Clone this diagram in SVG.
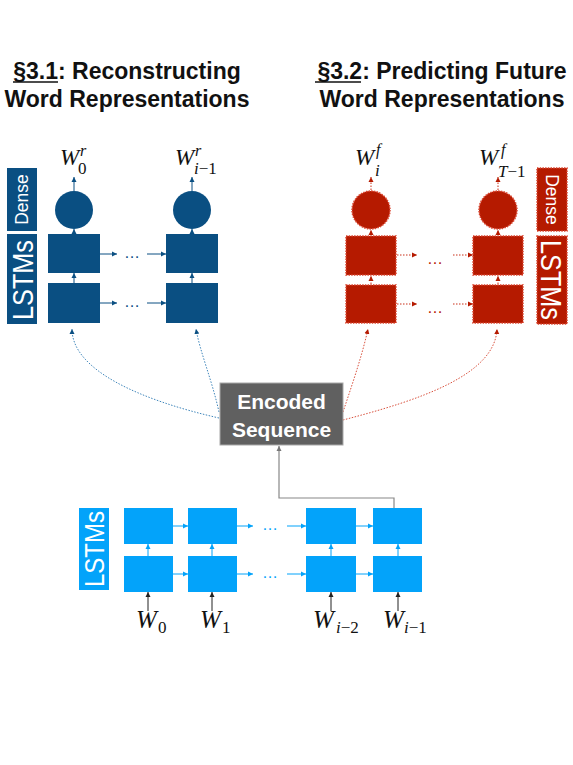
<svg xmlns="http://www.w3.org/2000/svg" width="573" height="765" viewBox="0 0 573 765">
<defs>
<marker id="aB" markerUnits="userSpaceOnUse" markerWidth="6" markerHeight="6" refX="5" refY="3" orient="auto"><path d="M0,0.5 L5,3 L0,5.5 Z" fill="#0a4f82"/></marker>
<marker id="aR" markerUnits="userSpaceOnUse" markerWidth="6" markerHeight="6" refX="5" refY="3" orient="auto"><path d="M0,0.5 L5,3 L0,5.5 Z" fill="#b51a00"/></marker>
<marker id="aL" markerUnits="userSpaceOnUse" markerWidth="6" markerHeight="6" refX="5" refY="3" orient="auto"><path d="M0,0.5 L5,3 L0,5.5 Z" fill="#03a3fa"/></marker>
<marker id="aK" markerUnits="userSpaceOnUse" markerWidth="6" markerHeight="6" refX="5" refY="3" orient="auto"><path d="M0,0.5 L5,3 L0,5.5 Z" fill="#222"/></marker>
<marker id="aG" markerUnits="userSpaceOnUse" markerWidth="6" markerHeight="6" refX="5" refY="3" orient="auto"><path d="M0,0.5 L5,3 L0,5.5 Z" fill="#777"/></marker>
</defs>
<style>
.title{font-family:"Liberation Sans",Arial,sans-serif;font-weight:bold;font-size:23px;fill:#111;text-anchor:middle}
.blue{fill:#0a4f82}
.red{fill:#b51a00;stroke:#d9442e;stroke-width:1.5;stroke-dasharray:1.5 1.2}
.lb{fill:#03a3fa}
.lbl{font-family:"Liberation Sans",Arial,sans-serif;fill:#fff}
.w{font-family:"Liberation Serif","Times New Roman",serif;font-style:italic;font-size:23px;fill:#111}
.wb{font-family:"Liberation Serif","Times New Roman",serif;font-style:italic;font-size:25px;fill:#111}
.s{font-family:"Liberation Serif","Times New Roman",serif;font-size:17px;fill:#111}
.si{font-family:"Liberation Serif","Times New Roman",serif;font-style:italic;font-size:17px;fill:#111}
.sup{font-family:"Liberation Serif","Times New Roman",serif;font-style:italic;font-size:16px;fill:#111}
.eB{stroke:#0a4f82;stroke-width:1;fill:none}
.eR{stroke:#c9301a;stroke-width:1;fill:none;stroke-dasharray:1.5 1.5}
.eL{stroke:#03a3fa;stroke-width:1;fill:none}
.eK{stroke:#222;stroke-width:1;fill:none}
.dots{font-family:"Liberation Sans",Arial,sans-serif;font-size:16px}
</style>

<g id="titles">
<text class="title" x="127" y="79">§3.1: Reconstructing</text>
<line x1="13" y1="82" x2="58" y2="82" stroke="#111" stroke-width="1.5"/>
<text class="title" x="127" y="107">Word Representations</text>
<text class="title" x="442" y="79">§3.2: Predicting Future</text>
<line x1="315" y1="82" x2="361" y2="82" stroke="#111" stroke-width="1.5"/>
<text class="title" x="442" y="107">Word Representations</text>
</g>

<g id="connectors">
<line class="eB" x1="74" y1="191" x2="74" y2="177" marker-end="url(#aB)"/>
<line class="eB" x1="192" y1="191" x2="192" y2="177" marker-end="url(#aB)"/>
<line class="eB" x1="74" y1="234" x2="74" y2="229" marker-end="url(#aB)"/>
<line class="eB" x1="192" y1="234" x2="192" y2="229" marker-end="url(#aB)"/>
<line class="eB" x1="74" y1="283" x2="74" y2="273" marker-end="url(#aB)"/>
<line class="eB" x1="192" y1="283" x2="192" y2="273" marker-end="url(#aB)"/>
<line class="eB" x1="100" y1="254" x2="117" y2="254" marker-end="url(#aB)"/>
<line class="eB" x1="147" y1="254" x2="166" y2="254" marker-end="url(#aB)"/>
<line class="eB" x1="100" y1="303" x2="117" y2="303" marker-end="url(#aB)"/>
<line class="eB" x1="147" y1="303" x2="166" y2="303" marker-end="url(#aB)"/>
<line class="eR" x1="371" y1="190" x2="371" y2="177" marker-end="url(#aR)"/>
<line class="eR" x1="498" y1="190" x2="498" y2="177" marker-end="url(#aR)"/>
<line class="eR" x1="371" y1="235" x2="371" y2="230" marker-end="url(#aR)"/>
<line class="eR" x1="498" y1="235" x2="498" y2="230" marker-end="url(#aR)"/>
<line class="eR" x1="371" y1="284" x2="371" y2="276" marker-end="url(#aR)"/>
<line class="eR" x1="498" y1="284" x2="498" y2="276" marker-end="url(#aR)"/>
<line class="eR" x1="397" y1="255" x2="417" y2="255" marker-end="url(#aR)"/>
<line class="eR" x1="453" y1="255" x2="473" y2="255" marker-end="url(#aR)"/>
<line class="eR" x1="397" y1="304" x2="417" y2="304" marker-end="url(#aR)"/>
<line class="eR" x1="453" y1="304" x2="473" y2="304" marker-end="url(#aR)"/>
<path d="M219,418 C140,400 72,370 72,329" fill="none" stroke="#3f86bb" stroke-width="1" stroke-dasharray="1.5 1.5" marker-end="url(#aB)"/>
<path d="M219,412 C212,380 200,352 196,329" fill="none" stroke="#3f86bb" stroke-width="1" stroke-dasharray="1.5 1.5" marker-end="url(#aB)"/>
<path d="M343,412 C352,385 362,356 368,329" fill="none" stroke="#d9503c" stroke-width="1" stroke-dasharray="1.5 1.5" marker-end="url(#aR)"/>
<path d="M343,420 C420,400 495,375 497,329" fill="none" stroke="#d9503c" stroke-width="1" stroke-dasharray="1.5 1.5" marker-end="url(#aR)"/>
<path d="M394,508 L394,498 L279,498 L279,446" fill="none" stroke="#888" stroke-width="1.2" marker-end="url(#aG)"/>
<line class="eL" x1="173" y1="526" x2="188" y2="526" marker-end="url(#aL)"/>
<line class="eL" x1="237" y1="526" x2="253" y2="526" marker-end="url(#aL)"/>
<line class="eL" x1="287" y1="526" x2="306" y2="526" marker-end="url(#aL)"/>
<line class="eL" x1="356" y1="526" x2="373" y2="526" marker-end="url(#aL)"/>
<line class="eL" x1="173" y1="574" x2="188" y2="574" marker-end="url(#aL)"/>
<line class="eL" x1="237" y1="574" x2="253" y2="574" marker-end="url(#aL)"/>
<line class="eL" x1="287" y1="574" x2="306" y2="574" marker-end="url(#aL)"/>
<line class="eL" x1="356" y1="574" x2="373" y2="574" marker-end="url(#aL)"/>
<line class="eL" x1="148" y1="556" x2="148" y2="544" marker-end="url(#aL)"/>
<line class="eL" x1="212" y1="556" x2="212" y2="544" marker-end="url(#aL)"/>
<line class="eL" x1="331" y1="556" x2="331" y2="544" marker-end="url(#aL)"/>
<line class="eL" x1="398" y1="556" x2="398" y2="544" marker-end="url(#aL)"/>
<line class="eK" x1="148" y1="611" x2="148" y2="592" marker-end="url(#aK)"/>
<line class="eK" x1="212" y1="611" x2="212" y2="592" marker-end="url(#aK)"/>
<line class="eK" x1="331" y1="611" x2="331" y2="592" marker-end="url(#aK)"/>
<line class="eK" x1="398" y1="611" x2="398" y2="592" marker-end="url(#aK)"/>
</g>

<g id="blue-decoder">
<rect class="blue" x="7" y="168" width="30" height="63"/>
<text class="lbl" font-size="17.5" text-anchor="middle" transform="translate(28,199.5) rotate(-90)">Dense</text>
<rect class="blue" x="7" y="234" width="30" height="90"/>
<text class="lbl" font-size="30" text-anchor="middle" textLength="80" lengthAdjust="spacingAndGlyphs" transform="translate(33,280) rotate(-90)">LSTMs</text>
<circle class="blue" cx="74" cy="210" r="19"/>
<circle class="blue" cx="192" cy="210" r="19"/>
<rect class="blue" x="48" y="234" width="52" height="39"/>
<rect class="blue" x="166" y="234" width="52" height="39"/>
<rect class="blue" x="48" y="283" width="52" height="40"/>
<rect class="blue" x="166" y="283" width="52" height="40"/>
<text class="dots" x="124" y="258" fill="#0a4f82">…</text>
<text class="dots" x="124" y="307" fill="#0a4f82">…</text>
<text class="w" x="60" y="165">W</text>
<text class="sup" x="80" y="156">r</text>
<text class="s" x="78" y="174">0</text>
<text class="w" x="175" y="165">W</text>
<text class="sup" x="195" y="156">r</text>
<text class="si" x="194" y="174">i<tspan font-style="normal">−1</tspan></text>
</g>

<g id="red-decoder">
<rect class="red" x="537" y="168" width="30" height="63"/>
<text class="lbl" font-size="17.5" text-anchor="middle" transform="translate(546,199.5) rotate(90)">Dense</text>
<rect class="red" x="537" y="236" width="30" height="88"/>
<text class="lbl" font-size="30" text-anchor="middle" textLength="80" lengthAdjust="spacingAndGlyphs" transform="translate(541,280) rotate(90)">LSTMs</text>
<circle class="red" cx="371" cy="210" r="19"/>
<circle class="red" cx="498" cy="210" r="19"/>
<rect class="red" x="346" y="236" width="50" height="39"/>
<rect class="red" x="473" y="236" width="50" height="39"/>
<rect class="red" x="346" y="285" width="50" height="38"/>
<rect class="red" x="473" y="285" width="50" height="38"/>
<text class="dots" x="427" y="264" fill="#b51a00">…</text>
<text class="dots" x="427" y="313" fill="#b51a00">…</text>
<text class="w" x="355" y="165">W</text>
<text class="sup" x="376" y="155">f</text>
<text class="si" x="375" y="176">i</text>
<text class="w" x="479" y="165">W</text>
<text class="sup" x="501" y="155">f</text>
<text class="si" x="498" y="177">T<tspan font-style="normal">−1</tspan></text>
</g>

<g id="encoded-sequence">
<rect x="220" y="383" width="123" height="62" fill="#606060" stroke="#a8a8a8" stroke-width="1"/>
<text class="lbl" font-size="21" font-weight="bold" text-anchor="middle" x="281.5" y="409">Encoded</text>
<text class="lbl" font-size="21" font-weight="bold" text-anchor="middle" x="281.5" y="437">Sequence</text>
</g>

<g id="encoder">
<rect class="lb" x="79" y="508" width="30" height="82"/>
<text class="lbl" font-size="27" text-anchor="middle" textLength="76" lengthAdjust="spacingAndGlyphs" transform="translate(104,549) rotate(-90)">LSTMs</text>
<rect class="lb" x="124" y="508" width="49" height="36"/>
<rect class="lb" x="188" y="508" width="49" height="36"/>
<rect class="lb" x="306" y="508" width="50" height="36"/>
<rect class="lb" x="373" y="508" width="49" height="36"/>
<rect class="lb" x="124" y="556" width="49" height="36"/>
<rect class="lb" x="188" y="556" width="49" height="36"/>
<rect class="lb" x="306" y="556" width="50" height="36"/>
<rect class="lb" x="373" y="556" width="49" height="36"/>
<text class="dots" x="262" y="530" fill="#03a3fa">…</text>
<text class="dots" x="262" y="578" fill="#03a3fa">…</text>
<text class="wb" x="136" y="628">W</text>
<text class="s" x="158" y="633">0</text>
<text class="wb" x="200" y="628">W</text>
<text class="s" x="222" y="633">1</text>
<text class="wb" x="313" y="628">W</text>
<text class="si" x="336" y="633">i<tspan font-style="normal">−2</tspan></text>
<text class="wb" x="383" y="628">W</text>
<text class="si" x="404" y="633">i<tspan font-style="normal">−1</tspan></text>
</g>
</svg>
